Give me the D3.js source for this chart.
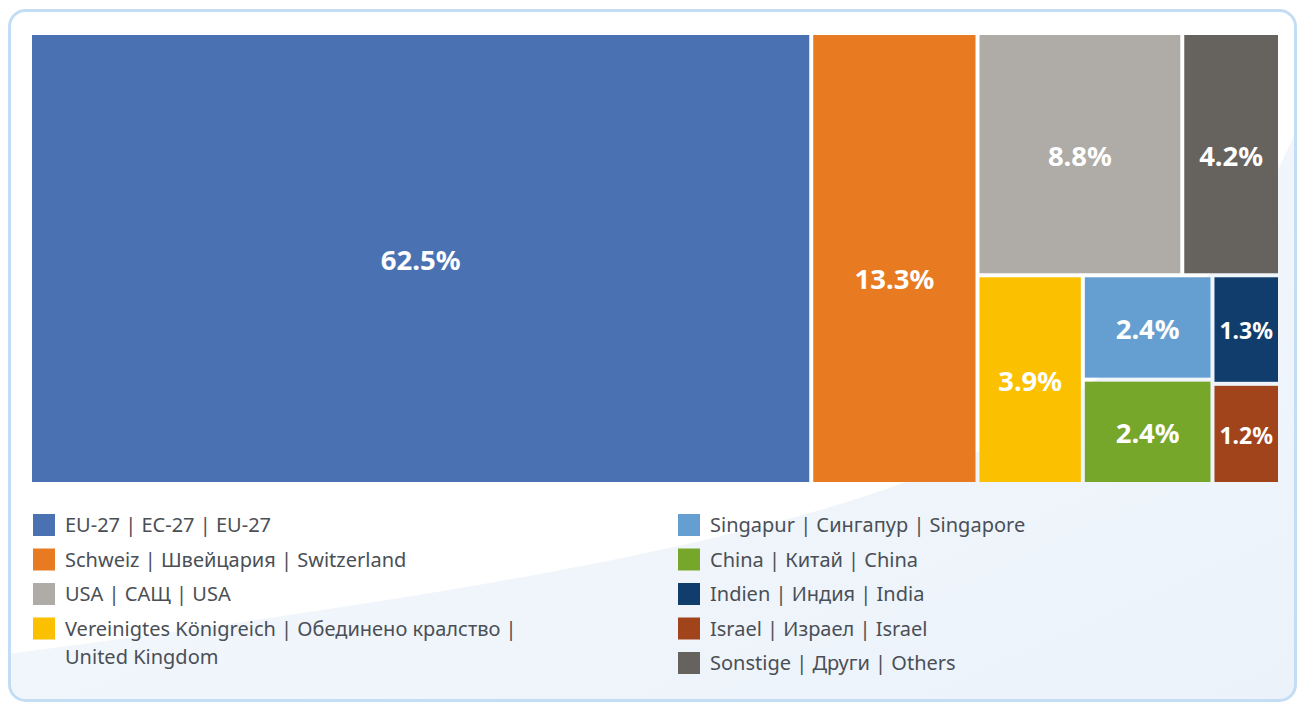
<!DOCTYPE html>
<html>
<head>
<meta charset="utf-8">
<script src="https://cdn.jsdelivr.net/npm/d3@7"></script>
<style>
  html, body { margin: 0; padding: 0; background: #fff; }
  svg { display: block; }
</style>
</head>
<body>
<div id="chart"></div>
<script>
// Anteile nach Land (Prozent)
const names = [
    "EU-27 | EC-27 | EU-27",
    "Schweiz | Швейцария | Switzerland",
    "USA | САЩ | USA",
    "Vereinigtes Königreich | Обединено кралство |\nUnited Kingdom",
    "Singapur | Сингапур | Singapore",
    "China | Китай | China",
    "Indien | Индия | India",
    "Israel | Израел | Israel",
    "Sonstige | Други | Others"
];
const shares = [62.5, 13.3, 8.8, 3.9, 2.4, 2.4, 1.3, 1.2, 4.2];
const colors = ["#4a71b1", "#e87a22", "#afaba6", "#fbc000", "#659fd1", "#76a72b", "#113d6d", "#a1441c", "#66635e"];
// how the tiles are grouped (indices into the arrays above)
const groups = [0, 1, [[2, 8], [3, [4, 5], [6, 7]]]];
// legend columns (indices)
const legendCols = [[0, 1, 2, 3], [4, 5, 6, 7, 8]];

const width = 1297;
const height = 702;

const svg = d3.select("#chart").append("svg")
    .attr("width", width)
    .attr("height", height);

// background card
const defs = svg.append("defs");
const grad = defs.append("linearGradient")
    .attr("id", "bg-grad")
    .attr("x1", 0).attr("y1", 0).attr("x2", 1).attr("y2", 1);
grad.append("stop").attr("offset", "0%").attr("stop-color", "#f7fafd");
grad.append("stop").attr("offset", "100%").attr("stop-color", "#ebf2fa");

defs.append("clipPath").attr("id", "card-clip")
  .append("rect")
    .attr("x", 9.5).attr("y", 10.5)
    .attr("width", 1286).attr("height", 690)
    .attr("rx", 16);

svg.append("rect")
    .attr("x", 9.5).attr("y", 10.5)
    .attr("width", 1286).attr("height", 690)
    .attr("rx", 16)
    .attr("fill", "#fff");

svg.append("path")
    .attr("clip-path", "url(#card-clip)")
    .attr("d", "M0,655 C 420,600 820,540 1000,440 C 1150,360 1250,250 1300,120 L1300,702 L0,702 Z")
    .attr("fill", "url(#bg-grad)");

svg.append("rect")
    .attr("x", 9.5).attr("y", 10.5)
    .attr("width", 1286).attr("height", 690)
    .attr("rx", 16)
    .attr("fill", "none")
    .attr("stroke", "#c3def4")
    .attr("stroke-width", 3);

// build hierarchy from groups
function build(g) {
    if (Array.isArray(g)) return { children: g.map(build) };
    return { name: names[g], value: shares[g], color: colors[g] };
}

const tm = { x: 32, y: 35, w: 1246, h: 447 };

const root = d3.treemap()
    .tile(d3.treemapSliceDice)
    .size([tm.w, tm.h])
    .paddingInner(4)
    (d3.hierarchy(build(groups)).sum(d => d.value || 0));

const labelShift = { "Schweiz | Швейцария | Switzerland": 19 };

const leaf = svg.append("g")
    .attr("transform", `translate(${tm.x},${tm.y})`)
  .selectAll("g")
  .data(root.leaves())
  .join("g")
    .attr("transform", d => `translate(${d.x0},${d.y0})`);

leaf.append("rect")
    .attr("width", d => d.x1 - d.x0)
    .attr("height", d => d.y1 - d.y0)
    .attr("fill", d => d.data.color);

leaf.append("text")
    .attr("x", d => (d.x1 - d.x0) / 2)
    .attr("y", d => (d.y1 - d.y0) / 2 + (labelShift[d.data.name] || 0))
    .attr("dy", "0.42em")
    .attr("text-anchor", "middle")
    .attr("fill", "#fff")
    .style("font-family", "'Noto Sans', sans-serif")
    .style("font-weight", "bold")
    .style("font-size", d => (d.x1 - d.x0) < 80 ? "23px" : "27.5px")
    .text(d => d3.format(".1f")(d.data.value) + "%");

// legend
const colX = [33, 678];
const rowH = 34.5;
legendCols.forEach((col, ci) => {
    let row = 0;
    col.forEach(i => {
        const g = svg.append("g")
            .attr("transform", `translate(${colX[ci]},${525 + row * rowH})`);
        g.append("rect")
            .attr("x", 0).attr("y", -11)
            .attr("width", 22).attr("height", 22)
            .attr("fill", colors[i]);
        const lines = names[i].split("\n");
        const t = g.append("text")
            .attr("x", 32)
            .attr("fill", "#4a4f56")
            .style("font-family", "'Noto Sans', sans-serif")
            .style("font-size", "20px");
        lines.forEach((ln, li) => {
            t.append("tspan")
                .attr("x", 32)
                .attr("y", li * 28)
                .attr("dy", "0.35em")
                .text(ln);
        });
        row += 1;
    });
});
</script>
</body>
</html>
